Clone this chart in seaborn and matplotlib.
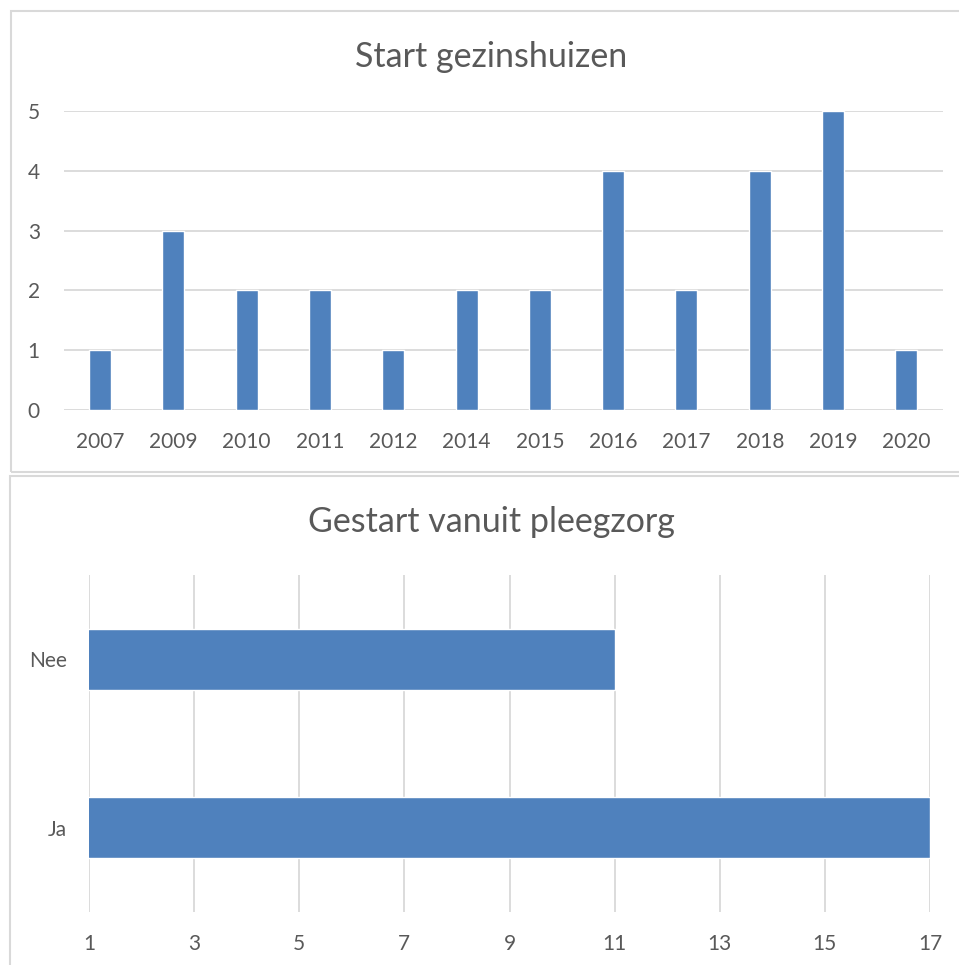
import matplotlib
matplotlib.use("Agg")
import matplotlib.pyplot as plt
import seaborn as sns
import pandas as pd
from matplotlib.patches import Rectangle

years = ["2007", "2009", "2010", "2011", "2012", "2014", "2015", "2016",
         "2017", "2018", "2019", "2020"]
counts = [1, 3, 2, 2, 1, 2, 2, 4, 2, 4, 5, 1]

foster_cats = ["Nee", "Ja"]
foster_vals = [11, 17]

BAR = "#4F81BD"
TXT = "#595959"
GRID = "#D9D9D9"

sns.set_theme(style="white")
plt.rcParams["font.family"] = ["Lato", "DejaVu Sans"]

W, H = 959, 965
fig = plt.figure(figsize=(W / 100, H / 100), dpi=100)


def px(x0, y_top, x1, y_bot):
    return [x0 / W, 1 - y_bot / H, (x1 - x0) / W, (y_bot - y_top) / H]


# panel borders
for (x0, y0, x1, y1) in [(11, 11, 962, 472), (10, 476, 962, 970)]:
    fig.add_artist(Rectangle((x0 / W, 1 - y1 / H), (x1 - x0) / W, (y1 - y0) / H,
                             transform=fig.transFigure, fill=False,
                             edgecolor=GRID, linewidth=1.5))

# top chart
df1 = pd.DataFrame({"Jaar": years, "Aantal": counts})
ax1 = fig.add_axes(px(63.5, 111, 943, 410))
sns.barplot(data=df1, x="Jaar", y="Aantal", color=BAR, saturation=1,
            width=0.3, ax=ax1)
ax1.set_ylim(0, 5)
ax1.set_yticks(range(0, 6))
ax1.set_xlim(-0.5, len(years) - 0.5)
ax1.yaxis.grid(True, color=GRID, linewidth=1.3)
ax1.set_axisbelow(True)
for s in ax1.spines.values():
    s.set_visible(False)
ax1.set_xlabel("")
ax1.set_ylabel("")
ax1.tick_params(axis="y", length=0, pad=17, labelsize=15, labelcolor=TXT)
ax1.tick_params(axis="x", length=0, pad=16, labelsize=15, labelcolor=TXT)
fig.text(491 / W, 1 - 57 / H, "Start gezinshuizen", ha="center", va="center",
         fontsize=24.5, color=TXT)

# bottom chart
df2 = pd.DataFrame({"Pleegzorg": foster_cats, "Aantal": foster_vals})
ax2 = fig.add_axes(px(89, 575, 930, 912))
sns.barplot(data=df2, y="Pleegzorg", x="Aantal", orient="h", color=BAR,
            saturation=1, width=0.36, ax=ax2)
ax2.set_xlim(1, 17)
ax2.set_xticks(range(1, 18, 2))
ax2.set_ylim(1.5, -0.5)
ax2.xaxis.grid(True, color=GRID, linewidth=1.3)
ax2.set_axisbelow(True)
for s in ax2.spines.values():
    s.set_visible(False)
ax2.set_xlabel("")
ax2.set_ylabel("")
ax2.tick_params(axis="y", length=0, pad=16, labelsize=15, labelcolor=TXT)
ax2.tick_params(axis="x", length=0, pad=16, labelsize=15, labelcolor=TXT)
fig.text(491 / W, 1 - 522 / H, "Gestart vanuit pleegzorg", ha="center",
         va="center", fontsize=24.5, color=TXT)

fig.savefig("out.png", dpi=100, facecolor="white")
